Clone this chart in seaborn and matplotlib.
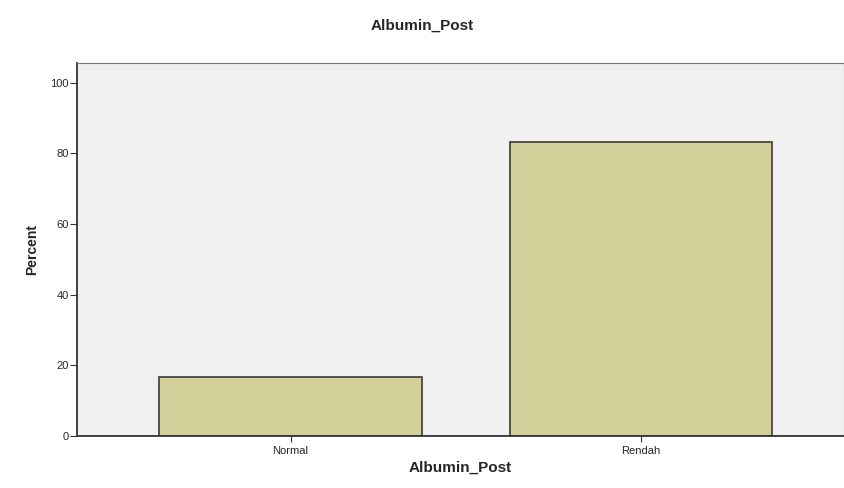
import numpy as np
import pandas as pd
import seaborn as sns
from matplotlib import pyplot as plt

# Albumin_Post categories and percents
categories = ['Normal', 'Rendah']
percents = [16.7, 83.3]
y_ticks = [0, 20, 40, 60, 80, 100]

df = pd.DataFrame({'Albumin_Post': categories, 'Percent': percents})

sns.set_style('white')
plt.rcParams['font.family'] = ['Liberation Sans', 'DejaVu Sans']

fig = plt.figure(figsize=(8.45, 4.88), dpi=100)
ax = fig.add_axes([0.091, 0.107, 0.908, 0.764])
ax.set_facecolor('#f0f0f0')

sns.barplot(data=df, x='Albumin_Post', y='Percent', color='#d4d09a',
            saturation=1, width=0.75, edgecolor='#3a3a3a', linewidth=1.2, ax=ax)

ax.set_xlim(-0.61, 1.58)
ax.set_ylim(0, 105.6)
ax.set_yticks(y_ticks)
ax.set_yticklabels([str(t) for t in y_ticks], fontsize=8)
ax.tick_params(axis='x', labelsize=8, length=4, direction='out', color='#333333')
ax.tick_params(axis='y', length=5, direction='out', color='#333333', pad=1)
ax.tick_params(bottom=True, left=True)

for side in ['left', 'bottom']:
    ax.spines[side].set_color('#333333')
    ax.spines[side].set_linewidth(1.3)
ax.spines['top'].set_color('#777777')
ax.spines['right'].set_color('#777777')

ax.set_xlabel('Albumin_Post', fontsize=11, fontweight='bold', labelpad=3)
ax.set_ylabel('Percent', fontsize=10, fontweight='bold', labelpad=8)
fig.suptitle('Albumin_Post', fontsize=11, fontweight='bold', x=0.5, y=0.962)

fig.savefig('out.png', dpi=100)
